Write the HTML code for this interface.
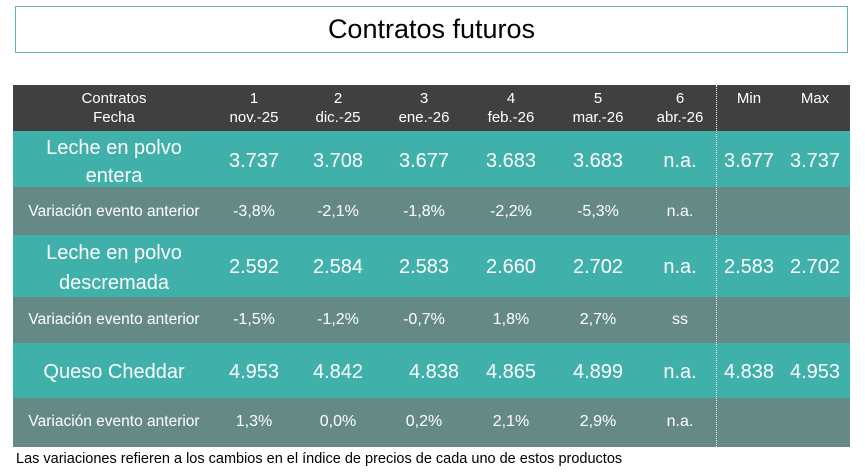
<!DOCTYPE html>
<html><head><meta charset="utf-8"><style>
body{margin:0;width:865px;height:472px;background:#fff;position:relative;overflow:hidden;font-family:"Liberation Sans",sans-serif;}
.t{position:absolute;left:15px;top:6px;width:831px;height:45px;border:1px solid #5fb3b0;text-align:center;line-height:45px;font-size:27px;color:#000;letter-spacing:0px}
.r{position:absolute;left:13px;width:837px}
.c{position:absolute;text-align:center;color:#fff;transform:translateX(-50%);white-space:nowrap}
.h{background:#404040}.a{background:#40b0aa}.g{background:#658a85}
.dl{position:absolute;left:716px;top:85px;height:362px;border-left:1.5px dotted #fff}
.f{position:absolute;left:16px;top:451px;font-size:14.5px;color:#000}
.hd{font-size:15px;line-height:19px;top:89px}
.v{font-size:20px}
.p{font-size:16px}
.lab{font-size:15.5px;left:114px}
</style></head><body>
<div class="t">Contratos futuros</div>

<div class="r h" style="top:85px;height:46px"></div>
<div class="r a" style="top:131px;height:56px"></div>
<div class="r g" style="top:187px;height:48px"></div>
<div class="r a" style="top:235px;height:62px"></div>
<div class="r g" style="top:297px;height:46px"></div>
<div class="r a" style="top:343px;height:55px"></div>
<div class="r g" style="top:398px;height:49px"></div>
<div class="dl"></div>

<div class="c hd" style="left:114px">Contratos<br>Fecha</div>
<div class="c hd" style="left:254px">1<br>nov.-25</div>
<div class="c hd" style="left:338px">2<br>dic.-25</div>
<div class="c hd" style="left:424px">3<br>ene.-26</div>
<div class="c hd" style="left:511px">4<br>feb.-26</div>
<div class="c hd" style="left:598px">5<br>mar.-26</div>
<div class="c hd" style="left:680px">6<br>abr.-26</div>
<div class="c hd" style="left:749px">Min</div>
<div class="c hd" style="left:815px">Max</div>

<div class="c" style="left:114px;top:134px;font-size:20px;line-height:28px">Leche en polvo<br>entera</div>
<div class="c v" style="left:254px;top:150px">3.737</div>
<div class="c v" style="left:338px;top:150px">3.708</div>
<div class="c v" style="left:424px;top:150px">3.677</div>
<div class="c v" style="left:511px;top:150px">3.683</div>
<div class="c v" style="left:598px;top:150px">3.683</div>
<div class="c v" style="left:680px;top:150px">n.a.</div>
<div class="c v" style="left:749px;top:150px">3.677</div>
<div class="c v" style="left:815px;top:150px">3.737</div>

<div class="c lab" style="top:203px">Variación evento anterior</div>
<div class="c p" style="left:254px;top:203px">-3,8%</div>
<div class="c p" style="left:338px;top:203px">-2,1%</div>
<div class="c p" style="left:424px;top:203px">-1,8%</div>
<div class="c p" style="left:511px;top:203px">-2,2%</div>
<div class="c p" style="left:598px;top:203px">-5,3%</div>
<div class="c p" style="left:680px;top:203px">n.a.</div>

<div class="c" style="left:114px;top:238px;font-size:20px;line-height:30px">Leche en polvo<br>descremada</div>
<div class="c v" style="left:254px;top:256px">2.592</div>
<div class="c v" style="left:338px;top:256px">2.584</div>
<div class="c v" style="left:424px;top:256px">2.583</div>
<div class="c v" style="left:511px;top:256px">2.660</div>
<div class="c v" style="left:598px;top:256px">2.702</div>
<div class="c v" style="left:680px;top:256px">n.a.</div>
<div class="c v" style="left:749px;top:256px">2.583</div>
<div class="c v" style="left:815px;top:256px">2.702</div>

<div class="c lab" style="top:311px">Variación evento anterior</div>
<div class="c p" style="left:254px;top:311px">-1,5%</div>
<div class="c p" style="left:338px;top:311px">-1,2%</div>
<div class="c p" style="left:424px;top:311px">-0,7%</div>
<div class="c p" style="left:511px;top:311px">1,8%</div>
<div class="c p" style="left:598px;top:311px">2,7%</div>
<div class="c p" style="left:680px;top:311px">ss</div>

<div class="c v" style="left:114px;top:361px">Queso Cheddar</div>
<div class="c v" style="left:254px;top:361px">4.953</div>
<div class="c v" style="left:338px;top:361px">4.842</div>
<div class="c v" style="left:434px;top:361px">4.838</div>
<div class="c v" style="left:511px;top:361px">4.865</div>
<div class="c v" style="left:598px;top:361px">4.899</div>
<div class="c v" style="left:680px;top:361px">n.a.</div>
<div class="c v" style="left:749px;top:361px">4.838</div>
<div class="c v" style="left:815px;top:361px">4.953</div>

<div class="c lab" style="top:413px">Variación evento anterior</div>
<div class="c p" style="left:254px;top:413px">1,3%</div>
<div class="c p" style="left:338px;top:413px">0,0%</div>
<div class="c p" style="left:424px;top:413px">0,2%</div>
<div class="c p" style="left:511px;top:413px">2,1%</div>
<div class="c p" style="left:598px;top:413px">2,9%</div>
<div class="c p" style="left:680px;top:413px">n.a.</div>

<div class="f">Las variaciones refieren a los cambios en el índice de precios de cada uno de estos productos</div>
</body></html>
